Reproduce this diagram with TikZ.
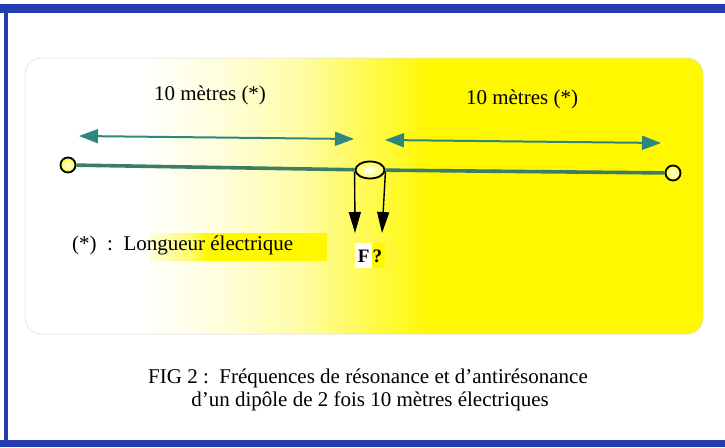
\documentclass[tikz,border=0pt]{standalone}
\usepackage{fontspec}
\setmainfont{Liberation Serif}
\usetikzlibrary{arrows.meta,shapes.geometric}
\definecolor{frameblue}{RGB}{35,60,175}
\definecolor{arrteal}{RGB}{45,135,125}
\definecolor{wiregreen}{RGB}{60,125,100}
\definecolor{panelyel}{RGB}{255,248,0}
\pgfdeclarehorizontalshading{panelshade}{100bp}{color(0bp)=(white); color(33.5bp)=(white); color(39.4bp)=(panelyel!14); color(45.3bp)=(panelyel!35); color(50.4bp)=(panelyel!70); color(55bp)=(panelyel); color(100bp)=(panelyel)}
\pgfdeclarehorizontalshading{legshade}{100bp}{color(0bp)=(panelyel!15); color(25bp)=(panelyel!15); color(37bp)=(panelyel!60); color(41bp)=(panelyel); color(100bp)=(panelyel)}
\begin{document}
\begin{tikzpicture}[x=1pt,y=-1pt,
  txt/.style={font=\fontsize{21}{25}\selectfont, inner sep=0pt},
  dimarrow/.style={draw=arrteal, line width=2pt, {Triangle[length=19pt,width=14pt,fill=arrteal]}-{Triangle[length=19pt,width=14pt,fill=arrteal]}},
  wire/.style={draw=wiregreen, line width=3.6pt},
  endball/.style={circle, draw=black, line width=1.8pt, minimum size=15pt, inner sep=0pt, inner color=white, outer color=panelyel!85},
  feed/.style={ellipse, draw=black, line width=1.8pt, minimum width=29pt, minimum height=17pt, inner sep=0pt, inner color=white, outer color=panelyel!70},
  downarrow/.style={draw=black, line width=1.4pt, -{Triangle[length=21pt,width=12pt]}}]
\useasboundingbox (0,0) rectangle (725,447);
\fill[white] (0,0) rectangle (725,447);
% frame
\fill[frameblue] (0,4) rectangle (725,13);
\fill[frameblue] (4,4) rectangle (8,447);
\fill[frameblue] (0,440) rectangle (725,447);
% panel
\path[shading=panelshade, draw=black!15, line width=0.5pt, rounded corners=16pt] (25,58) rectangle (703,334);
% dipole
\node[endball] (L) at (68,165) {};
\node[endball] (R) at (673,173) {};
\node[feed] (Fd) at (370,170) {};
\draw[wire] (L) -- (Fd);
\draw[wire] (Fd) -- (R);
% dimension arrows
\coordinate (a1) at (79,136);
\coordinate (a2) at (354,139);
\coordinate (b1) at (385,140);
\coordinate (b2) at (661,143);
\draw[dimarrow] (a1) -- (a2);
\draw[dimarrow] (b1) -- (b2);
\node[txt] (t1) at (210,95) {10 mètres (*)};
\node[txt] (t2) at (522,99) {10 mètres (*)};
% feed lines
\coordinate (d1) at (355,233);
\coordinate (d2) at (382,233);
\draw[downarrow] (Fd.west |- 0,172) -- (d1);
\draw[downarrow] (Fd.east |- 0,172) -- (d2);
\fill[panelyel] (372,243) rectangle (385,268);
\fill[white] (355,243) rectangle (372,268);
\node[txt, font=\fontsize{19}{23}\selectfont\bfseries] (Fq) at (370,256) {F\,?};
% legend
\fill[shading=legshade] (150,233) rectangle (327,260);
\node[txt, anchor=west] (leg) at (72,245) {(*)\ \ :\ \ Longueur électrique};
% caption
\node[txt] (c1) at (368,378) {FIG 2 :\ \ Fréquences de résonance et d’antirésonance};
\node[txt] (c2) at (370,401) {d’un dipôle de 2 fois 10 mètres électriques};
\end{tikzpicture}
\end{document}
